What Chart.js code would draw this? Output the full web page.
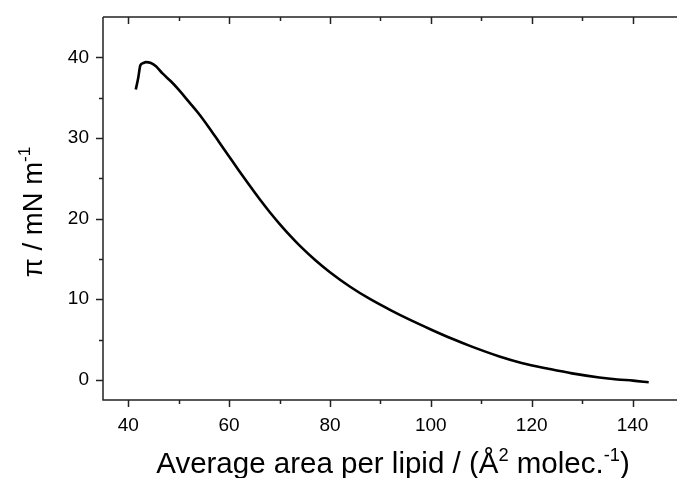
<!DOCTYPE html>
<html>
<head>
<meta charset="utf-8">
<script src="https://cdn.jsdelivr.net/npm/chart.js@4.4.1/dist/chart.umd.min.js"></script>
<style>
  html, body { margin: 0; padding: 0; background: #fff; overflow: hidden; }
  #wrap { width: 690px; height: 478px; }
</style>
</head>
<body>
<div id="wrap"><canvas id="chart" width="690" height="478"></canvas></div>
<script>
// ==================== DATA ====================
const areaValues = [41.5, 42.0, 42.4, 43.0, 43.5, 44.5, 45.5, 46.8, 48.5, 50.0, 52.0, 54.0, 56.0, 58.0,
  60.0, 62.0, 64.0, 66.0, 68.0, 70.0, 72.0, 74.0, 77.0, 80.0, 84.0, 88.0, 92.0, 96.0, 100.0,
  104.0, 108.0, 113.6, 118.0, 123.5, 128.0, 133.4, 137.0, 140.1, 143.2];
const pressureValues = [36.0, 37.5, 39.0, 39.3, 39.4, 39.3, 38.9, 38.0, 37.0, 36.0, 34.5, 33.0, 31.3, 29.5,
  27.7, 25.9, 24.15, 22.45, 20.85, 19.35, 17.95, 16.65, 14.9, 13.35, 11.55, 10.0, 8.65, 7.4, 6.25,
  5.15, 4.15, 2.9, 2.1, 1.35, 0.8, 0.3, 0.05, -0.1, -0.3];
const xTicks = [40, 60, 80, 100, 120, 140];
const xMinorTicks = [50, 70, 90, 110, 130, 150];
const yTicks = [0, 10, 20, 30, 40];
const yMinorTicks = [5, 15, 25, 35];

const FONT = "'Liberation Sans', Arial, sans-serif";
const AXIS_COLOR = "#222";

// draws text pieces, some of them raised as superscripts
function drawRich(ctx, parts, x, y, size) {
  let total = 0;
  parts.forEach(p => {
    ctx.font = `${p.sup ? size * 0.62 : size}px ${FONT}`;
    p.w = ctx.measureText(p.t).width;
    total += p.w;
  });
  let cx = x - total / 2;
  parts.forEach(p => {
    ctx.font = `${p.sup ? size * 0.62 : size}px ${FONT}`;
    ctx.fillText(p.t, cx, p.sup ? y - size * 0.42 : y);
    cx += p.w;
  });
}

const framePlugin = {
  id: "frame",
  afterDraw(chart) {
    const { ctx, chartArea: a, scales: { x, y } } = chart;
    ctx.save();
    ctx.strokeStyle = AXIS_COLOR;
    ctx.lineWidth = 1.5;
    ctx.beginPath();
    ctx.moveTo(a.left, a.top);
    ctx.lineTo(a.right, a.top);
    ctx.moveTo(a.left, a.top);
    ctx.lineTo(a.left, a.bottom);
    ctx.lineTo(a.right, a.bottom);
    // x ticks: outward at bottom, inward at top
    const tickX = (v, len) => {
      const px = Math.round(x.getPixelForValue(v)) + 0.5;
      ctx.moveTo(px, a.bottom);
      ctx.lineTo(px, a.bottom + len);
      ctx.moveTo(px, a.top);
      ctx.lineTo(px, a.top + len);
    };
    xTicks.forEach(v => tickX(v, 7));
    xMinorTicks.forEach(v => tickX(v, 4));
    const tickY = (v, len) => {
      const py = Math.round(y.getPixelForValue(v)) + 0.5;
      ctx.moveTo(a.left, py);
      ctx.lineTo(a.left - len, py);
    };
    yTicks.forEach(v => tickY(v, 7));
    yMinorTicks.forEach(v => tickY(v, 4));
    ctx.stroke();

    // axis titles
    ctx.fillStyle = "#000";
    ctx.textBaseline = "alphabetic";
    ctx.textAlign = "left";
    drawRich(ctx, [
      { t: "Average area per lipid / (Å" }, { t: "2", sup: true },
      { t: " molec." }, { t: "-1", sup: true }, { t: ")" }
    ], 393, 473, 29.5);

    ctx.translate(42, 212);
    ctx.rotate(-Math.PI / 2);
    drawRich(ctx, [{ t: "π / mN m" }, { t: "-1", sup: true }], 0, 0, 27.5);
    ctx.restore();
  }
};

new Chart(document.getElementById("chart"), {
  type: "line",
  data: {
    datasets: [{
      data: areaValues.map((a, i) => ({ x: a, y: pressureValues[i] })),
      borderColor: "#000",
      borderWidth: 2.6,
      pointRadius: 0,
      cubicInterpolationMode: "monotone",
      fill: false
    }]
  },
  options: {
    responsive: false,
    animation: false,
    layout: { padding: { top: 17, right: 7, left: 0, bottom: 0 } },
    plugins: { legend: { display: false }, tooltip: { enabled: false } },
    scales: {
      x: {
        type: "linear",
        min: 35,
        max: 150,
        afterFit: s => { s.height = 78; s.paddingLeft = 0; s.paddingRight = 0; },
        afterBuildTicks: s => { s.ticks = xTicks.map(v => ({ value: v })); },
        grid: { display: false },
        border: { display: false },
        ticks: { color: "#000", padding: 6, maxRotation: 0, font: { family: FONT, size: 19 } }
      },
      y: {
        type: "linear",
        min: -2.5,
        max: 45,
        afterFit: s => { s.width = 103; s.paddingTop = 0; s.paddingBottom = 0; },
        afterBuildTicks: s => { s.ticks = yTicks.map(v => ({ value: v })); },
        grid: { display: false },
        border: { display: false },
        ticks: { color: "#000", padding: 6, font: { family: FONT, size: 19 } }
      }
    }
  },
  plugins: [framePlugin]
});
</script>
</body>
</html>
